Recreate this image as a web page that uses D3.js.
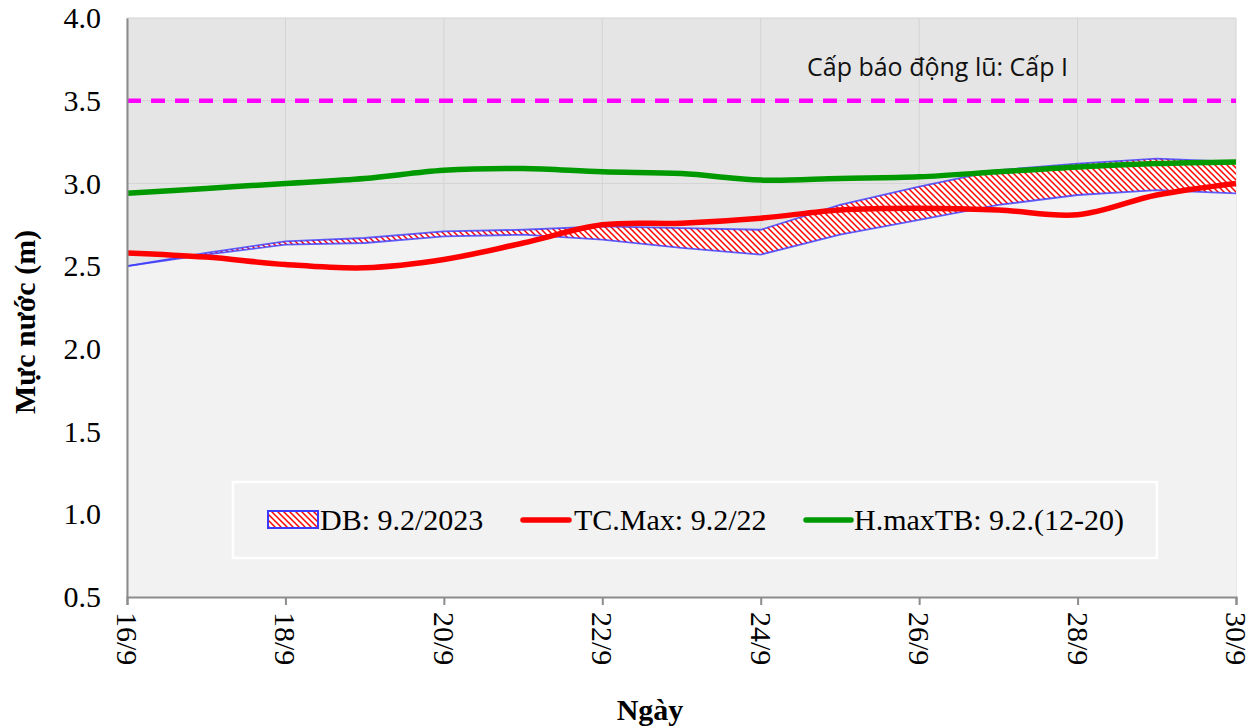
<!DOCTYPE html>
<html><head><meta charset="utf-8">
<script src="https://cdn.jsdelivr.net/npm/d3@7"></script>
<style>body{margin:0;background:#fff}svg{display:block}</style>
</head><body>
<svg id="c" width="1260" height="728"></svg>
<script>
const days = [16,17,18,19,20,21,22,23,24,25,26,27,28,29,30];
const tickDays = [16,18,20,22,24,26,28,30];
const tickLabels = ["16/9","18/9","20/9","22/9","24/9","26/9","28/9","30/9"];
const yTicks = [0.5,1.0,1.5,2.0,2.5,3.0,3.5,4.0];
const dbUpper = [2.50,2.58,2.65,2.67,2.71,2.72,2.74,2.73,2.72,2.87,2.98,3.08,3.12,3.15,3.13];
const dbLower = [2.50,2.57,2.63,2.64,2.68,2.69,2.66,2.61,2.57,2.69,2.78,2.87,2.93,2.96,2.94];
const tcMax   = [2.58,2.555,2.51,2.49,2.54,2.64,2.75,2.76,2.79,2.84,2.85,2.84,2.81,2.93,3.00];
const hMaxTB  = [2.94,2.97,3.00,3.03,3.08,3.09,3.07,3.06,3.02,3.03,3.04,3.07,3.10,3.12,3.13];
const alarmLevel = 3.5;
const alarmText = "Cấp báo động lũ: Cấp I";
const legendNames = ["DB: 9.2/2023","TC.Max: 9.2/22","H.maxTB: 9.2.(12-20)"];

const svg = d3.select("#c");
const L=127, R=1236, T=18, B=597;
const x = d3.scaleLinear().domain([16,30]).range([L,R]);
const y = d3.scaleLinear().domain([0.5,4.0]).range([B,T]);
const serif = "'Liberation Serif','Times New Roman',serif";

const defs = svg.append("defs");
const pat = defs.append("pattern").attr("id","hatch").attr("patternUnits","userSpaceOnUse")
  .attr("width",6).attr("height",6);
pat.append("rect").attr("width",6).attr("height",6).attr("fill","#fff");
pat.append("path").attr("d","M-1,-1 L7,7 M-4,2 L1,7 M5,-1 L7,1").attr("stroke","#ff0000").attr("stroke-width",1.5);

// plot background
svg.append("rect").attr("x",L).attr("y",T).attr("width",R-L).attr("height",B-T).attr("fill","#e5e5e5");
// gridlines
svg.append("g").selectAll("line").data(tickDays).join("line")
  .attr("x1",d=>x(d)).attr("x2",d=>x(d)).attr("y1",T).attr("y2",B)
  .attr("stroke","#d4d4d4").attr("stroke-width",1);
svg.append("g").selectAll("line").data(yTicks).join("line")
  .attr("x1",L).attr("x2",R).attr("y1",d=>y(d)).attr("y2",d=>y(d))
  .attr("stroke","#d4d4d4").attr("stroke-width",1);

const idx = d3.range(days.length);
// lower light area
svg.append("path").datum(idx).attr("fill","#f2f2f2")
  .attr("d", d3.area().x(i=>x(days[i])).y0(y(0.5)).y1(i=>y(dbLower[i])));
// hatched band
svg.append("path").datum(idx).attr("fill","url(#hatch)")
  .attr("d", d3.area().x(i=>x(days[i])).y0(i=>y(dbLower[i])).y1(i=>y(dbUpper[i])));
const lin = arr => d3.line().x(i=>x(days[i])).y(i=>y(arr[i]));
[dbUpper, dbLower].forEach(arr=>{
  svg.append("path").datum(idx).attr("fill","none").attr("stroke","#3a3aff").attr("stroke-width",1.8)
    .attr("stroke-opacity",0.8).attr("d", lin(arr));
});
const smooth = arr => d3.line().curve(d3.curveCatmullRom.alpha(0.5)).x(i=>x(days[i])).y(i=>y(arr[i]));
svg.append("path").datum(idx).attr("fill","none").attr("stroke","#009a00").attr("stroke-width",5.5)
  .attr("d", smooth(hMaxTB));
svg.append("path").datum(idx).attr("fill","none").attr("stroke","#ff0000").attr("stroke-width",5.5)
  .attr("d", smooth(tcMax));
// alarm line
svg.append("line").attr("x1",L).attr("x2",R).attr("y1",y(alarmLevel)).attr("y2",y(alarmLevel))
  .attr("stroke","#ff00ff").attr("stroke-width",4.5).attr("stroke-dasharray","14,10");
svg.append("text").attr("x",807).attr("y",76).attr("font-family","'Open Sans','Noto Sans',sans-serif")
  .attr("font-size",25).attr("fill","#111").text(alarmText);

// axes
const xAxis = d3.axisBottom(x).tickValues(tickDays).tickFormat((d,i)=>tickLabels[i]).tickSize(8).tickPadding(0);
const gx = svg.append("g").attr("transform",`translate(0,${B})`).call(xAxis);
gx.select(".domain").attr("stroke","#8c8c8c").attr("stroke-width",2);
gx.selectAll(".tick line").attr("stroke","#8c8c8c").attr("stroke-width",2);
gx.selectAll(".tick text").attr("font-family",serif).attr("font-size",30).attr("fill","#000")
  .attr("transform","rotate(90)").attr("text-anchor","start").attr("x",15).attr("y",0).attr("dy","0.35em");

const yAxis = d3.axisLeft(y).tickValues(yTicks).tickFormat(d3.format(".1f")).tickSize(0).tickPadding(26);
const gy = svg.append("g").attr("transform",`translate(${L},0)`).call(yAxis);
gy.select(".domain").attr("stroke","#8c8c8c").attr("stroke-width",2);
gy.selectAll(".tick text").attr("font-family",serif).attr("font-size",30).attr("fill","#000");

svg.append("text").attr("x",650).attr("y",720).attr("text-anchor","middle").attr("font-family",serif)
  .attr("font-weight","bold").attr("font-size",30).text("Ngày");
svg.append("text").attr("transform","translate(35,322) rotate(-90)").attr("text-anchor","middle")
  .attr("font-family",serif).attr("font-weight","bold").attr("font-size",30).text("Mực nước (m)");

// legend
const lg = svg.append("g");
lg.append("rect").attr("x",233).attr("y",482).attr("width",924).attr("height",76)
  .attr("fill","#f2f2f2").attr("stroke","#fff").attr("stroke-width",2.5);
lg.append("rect").attr("x",268).attr("y",511).attr("width",50).attr("height",17)
  .attr("fill","url(#hatch)").attr("stroke","#3a3aff").attr("stroke-width",2);
lg.append("line").attr("x1",523).attr("x2",569).attr("y1",520).attr("y2",520)
  .attr("stroke","#ff0000").attr("stroke-width",5.5).attr("stroke-linecap","round");
lg.append("line").attr("x1",806).attr("x2",851).attr("y1",520).attr("y2",520)
  .attr("stroke","#009a00").attr("stroke-width",5.5).attr("stroke-linecap","round");
[[320,0],[574,1],[854,2]].forEach(([tx,i])=>{
  lg.append("text").attr("x",tx).attr("y",530).attr("font-family",serif).attr("font-size",30)
    .attr("fill","#000").text(legendNames[i]);
});
</script>
</body></html>
